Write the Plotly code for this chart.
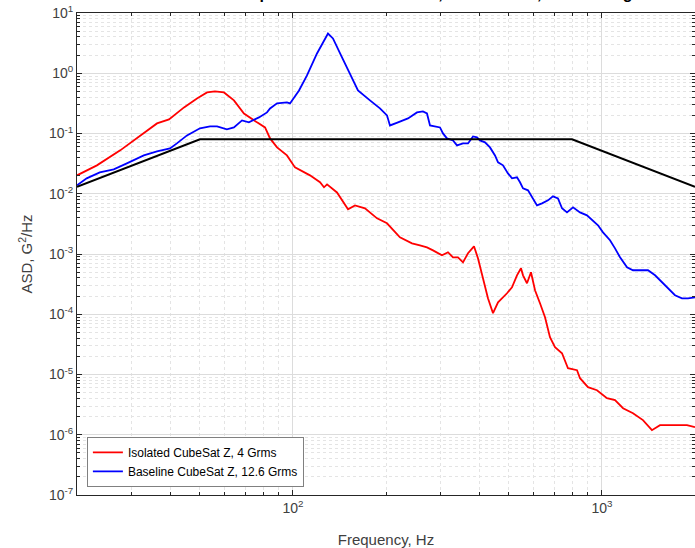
import plotly.graph_objects as go

# ---- data ----
iso_freq = [20.0, 23.2, 27.6, 32.9, 36.3, 39.7, 44.4, 48.9, 52.7, 55.9, 59.8, 64.4, 69.4,
            76.5, 81.2, 84.3, 88.8, 95.6, 101.5, 113.5, 122.3, 126.0, 128.9, 138.8, 150.7,
            158.7, 171.0, 187.1, 201.5, 221.9, 242.7, 257.6, 271.4, 283.9, 303.5, 317.4,
            329.5, 342.0, 355.0, 368.5, 385.3, 396.9, 412.0, 427.6, 444.0, 460.9, 492.7,
            511.4, 530.8, 546.9, 555.2, 571.9, 589.2, 607.1, 630.1, 654.1,
            678.7, 704.6, 742.4, 776.2, 830.2, 848.9, 900.9, 963.3, 1038, 1102,
            1170, 1260, 1357, 1451, 1541, 1697, 1884, 2000]
iso_asd = [0.0202, 0.0296, 0.0525, 0.1004, 0.147, 0.171, 0.271, 0.382, 0.480, 0.499, 0.480,
           0.354, 0.215, 0.153, 0.126, 0.0829, 0.0588, 0.0433, 0.0274, 0.0202, 0.0155,
           0.0128, 0.0143, 0.0105, 0.00551, 0.00642, 0.00573, 0.00391, 0.00323, 0.00189,
           0.00150, 0.00139, 0.00129, 0.00115, 0.000951, 0.00107, 0.000882, 0.000882,
           0.000728, 0.00103, 0.00134, 0.000849, 0.000395, 0.000184, 0.000104, 0.000158,
           0.000223, 0.000280, 0.000443, 0.000579, 0.000443, 0.000327, 0.000497, 0.000250,
           0.000152, 0.0000892,
           0.0000416, 0.0000284, 0.0000225, 0.0000127, 0.0000118,
           8.68e-6, 6.16e-6, 5.49e-6, 4.05e-6, 3.75e-6, 2.76e-6, 2.28e-6, 1.75e-6, 1.19e-6,
           1.44e-6, 1.44e-6, 1.44e-6, 1.34e-6]

base_freq = [20.0, 21.5, 23.7, 26.3, 29.0, 32.9, 36.3, 40.0, 42.1, 45.4, 50.0, 53.9, 56.8,
             61.1, 64.4, 68.4, 72.0, 77.6, 82.4, 84.3, 88.8, 95.6, 97.8, 104.6, 111.0, 119.6,
             129.8, 134.7, 144.1, 152.9, 162.3, 177.5, 191.2, 201.5, 206.0, 218.7, 235.6,
             251.9, 263.4, 271.4, 277.6, 299.1, 305.8, 315.0, 329.5, 339.5, 355.0, 368.5,
             379.6, 382.5, 394.0, 402.9, 418.2, 434.1, 450.6, 460.9, 478.2, 496.3, 511.4,
             530.8, 542.9, 555.2, 576.2, 593.7, 616.2, 639.6, 668.8, 694.2, 720.5, 742.4,
             770.4, 806.0, 848.9, 894.3, 935.2, 970.7, 1007.6, 1061.5, 1102, 1144, 1205,
             1260, 1347, 1409, 1485, 1541, 1623, 1723, 1815, 1898, 2000]
base_asd = [0.0138, 0.0180, 0.0226, 0.0254, 0.0319, 0.0433, 0.0505, 0.0566, 0.0685, 0.0930,
            0.122, 0.131, 0.131, 0.117, 0.126, 0.165, 0.153, 0.185, 0.224, 0.261, 0.316,
            0.328, 0.316, 0.519, 0.92, 2.13, 4.57, 3.78, 1.83, 0.99, 0.519, 0.354, 0.261,
            0.200, 0.136, 0.153, 0.178, 0.224, 0.233, 0.215, 0.136, 0.126, 0.1004, 0.0829,
            0.0768, 0.0635, 0.0685, 0.0685, 0.0829, 0.0895, 0.0861, 0.0768, 0.0712, 0.0588,
            0.0433, 0.0332, 0.0296, 0.0218, 0.0180, 0.0187, 0.0155, 0.0123, 0.0114,
            0.00871, 0.00642, 0.00693, 0.00777, 0.00906, 0.00839, 0.00573, 0.00491,
            0.00595, 0.00491, 0.00438, 0.00362, 0.00299, 0.00229, 0.00169, 0.00124,
            0.000882, 0.000602, 0.000537, 0.000537, 0.000537, 0.000443, 0.000366,
            0.000280, 0.000207, 0.000184, 0.000184, 0.000191]

spec_freq = [20, 50, 800, 2000]
spec_asd = [0.013, 0.08, 0.08, 0.013]

legend_names = ["Isolated CubeSat Z, 4 Grms", "Baseline CubeSat Z, 12.6 Grms"]
title_text = "Measured Response of the CubeSat Z, GEVS Level, Test Config"

y_major = [1e-7, 1e-6, 1e-5, 1e-4, 1e-3, 1e-2, 1e-1, 1e0, 1e1]
y_major_text = ["10<sup>-7</sup>", "10<sup>-6</sup>", "10<sup>-5</sup>", "10<sup>-4</sup>",
                "10<sup>-3</sup>", "10<sup>-2</sup>", "10<sup>-1</sup>", "10<sup>0</sup>",
                "10<sup>1</sup>"]
x_major = [100, 1000]
x_major_text = ["10<sup>2</sup>", "10<sup>3</sup>"]

x_minor = [m * d for d in (10, 100, 1000) for m in range(2, 10) if 20 <= m * d <= 2000]
y_minor = [m * d for d in (1e-7, 1e-6, 1e-5, 1e-4, 1e-3, 1e-2, 1e-1, 1e0) for m in range(2, 10)]

FONT = "Liberation Sans, Arial, sans-serif"

# ---- figure ----
fig = go.Figure()
fig.add_trace(go.Scatter(x=iso_freq, y=iso_asd, mode="lines", name=legend_names[0],
                         line=dict(color="#ff0000", width=1.8)))
fig.add_trace(go.Scatter(x=base_freq, y=base_asd, mode="lines", name=legend_names[1],
                         line=dict(color="#0000ff", width=1.8)))
fig.add_trace(go.Scatter(x=spec_freq, y=spec_asd, mode="lines", showlegend=False,
                         line=dict(color="#000000", width=2)))

axis_font = dict(family=FONT, size=14, color="#404040")
common = dict(type="log", showline=True, linecolor="#262626", linewidth=1, mirror="allticks",
              ticks="inside", ticklen=5, tickcolor="#262626", showgrid=True,
              gridcolor="#dcdcdc", gridwidth=1, zeroline=False, tickfont=axis_font)

fig.update_xaxes(range=[1.30103, 3.30103], tickmode="array", tickvals=x_major,
                 ticktext=x_major_text,
                 minor=dict(tickmode="array", tickvals=x_minor, ticks="inside", ticklen=3,
                            tickcolor="#262626", showgrid=True, gridcolor="#e4e4e4",
                            griddash="dot", gridwidth=1),
                 title=dict(text="Frequency, Hz", font=dict(family=FONT, size=15, color="#404040"),
                            standoff=20),
                 **common)
fig.update_yaxes(range=[-7, 1], tickmode="array", tickvals=y_major, ticktext=y_major_text,
                 minor=dict(tickmode="array", tickvals=y_minor, ticks="inside", ticklen=3,
                            tickcolor="#262626", showgrid=True, gridcolor="#e4e4e4",
                            griddash="dot", gridwidth=1),
                 title=dict(text="ASD, G<sup>2</sup>/Hz", font=dict(family=FONT, size=15, color="#404040"),
                            standoff=12),
                 **common)

fig.add_annotation(text="<b>" + title_text + "</b>", xref="paper", yref="paper",
                   x=0.51, y=1.0, xanchor="center", yanchor="bottom", yshift=8.5,
                   showarrow=False, font=dict(family=FONT, size=16, color="#000000"))

fig.update_layout(
    width=695, height=548,
    margin=dict(l=77, r=0, t=12.5, b=53),
    paper_bgcolor="white", plot_bgcolor="white",
    showlegend=True,
    legend=dict(x=0.016, y=0.017, xanchor="left", yanchor="bottom",
                bgcolor="white", bordercolor="#808080", borderwidth=1,
                font=dict(family=FONT, size=12, color="#000000"),
                itemwidth=30, tracegroupgap=0),
)

fig.write_html("out.html")
